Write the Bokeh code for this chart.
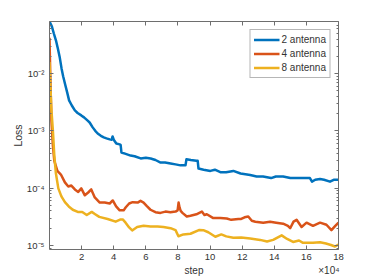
from bokeh.plotting import figure
from bokeh.models import (Range1d, LogAxis, LinearAxis, FixedTicker,
                          CustomJSTickFormatter, Legend, LegendItem)
from bokeh.embed import file_html
from bokeh.resources import INLINE

# ---- data ----
steps_2 = [0, 1500, 2700, 4000, 5200, 6400, 7500, 8500, 9600, 11000,
           12200, 13900, 15800, 17500, 19800, 21500, 23600, 25000, 26900, 28500,
           30000, 32000, 33800, 35500, 37500, 38700, 39300, 40000, 41600, 43700,
           44300, 44800, 47000, 50500, 53000, 56800, 60000, 63000, 66000, 69200,
           72000, 75400, 78500, 81600, 84700, 85300, 88000, 91500, 92300, 92800,
           96000, 100200, 103000, 106400, 110000, 114500, 119000, 125000, 129000, 133000,
           138000, 141000, 145500, 150000, 154200, 158000, 162200, 163500, 165500, 168500,
           171000, 174700, 177000, 180000]
loss_2 = [0.081, 0.066, 0.050, 0.038, 0.0274, 0.019, 0.0123, 0.0090, 0.0067, 0.0047,
          0.0034, 0.00277, 0.00227, 0.00205, 0.00186, 0.00172, 0.00152, 0.00140, 0.00115, 0.00100,
          0.00090, 0.00082, 0.00077, 0.00074, 0.00071, 0.00070, 0.00080, 0.00070, 0.00060, 0.00058,
          0.00057, 0.00042, 0.00040, 0.00037, 0.00036, 0.00033, 0.00034, 0.00033, 0.00031, 0.00028,
          0.00028, 0.00027, 0.00026, 0.00025, 0.00025, 0.00032, 0.00031, 0.00030, 0.00030, 0.00022,
          0.00021, 0.00020, 0.00021, 0.00019, 0.00019, 0.00020, 0.00018, 0.00017, 0.00016, 0.00016,
          0.00015, 0.00016, 0.00016, 0.00015, 0.00015, 0.00015, 0.00015, 0.00013, 0.00014, 0.000145,
          0.00014, 0.00013, 0.00014, 0.00014]

steps_4 = [0, 560, 1200, 2100, 3000, 4900, 7100, 9600, 11700, 13600,
           15800, 17900, 19800, 22000, 24100, 26000, 28200, 31300, 34400, 37500,
           39400, 41500, 43700, 46200, 47400, 49600, 51800, 54900, 56700, 58600,
           60500, 62900, 66000, 69100, 72200, 75300, 78500, 79800, 80400, 81000,
           81700, 82800, 85500, 87800, 91500, 94900, 96500, 98000, 102000, 106400,
           110400, 113200, 117600, 119400, 121500, 123800, 126000, 128200, 133100, 137400,
           141200, 145500, 148500, 149900, 152000, 153900, 157000, 160100, 164100, 168500,
           172500, 175600, 178000, 180000]
loss_4 = [0.042, 0.0076, 0.0015, 0.00056, 0.00030, 0.00020, 0.000173, 0.000126, 0.000107, 0.000111,
          9.5e-5, 8.6e-5, 9.9e-5, 7.5e-5, 8.4e-5, 9.5e-5, 6.9e-5, 5.6e-5, 5.6e-5, 5.4e-5,
          6.1e-5, 4.8e-5, 4.1e-5, 4.1e-5, 4.6e-5, 5.4e-5, 5.7e-5, 5.6e-5, 6.0e-5, 5.6e-5,
          4.9e-5, 4.2e-5, 3.8e-5, 3.7e-5, 3.9e-5, 3.8e-5, 3.9e-5, 4.1e-5, 5.6e-5, 4.6e-5,
          4.0e-5, 3.7e-5, 3.2e-5, 3.3e-5, 3.5e-5, 3.9e-5, 3.4e-5, 3.5e-5, 3.0e-5, 3.0e-5,
          2.95e-5, 2.8e-5, 2.9e-5, 2.9e-5, 3.1e-5, 3.2e-5, 2.7e-5, 2.6e-5, 2.5e-5, 2.6e-5,
          2.5e-5, 2.4e-5, 2.2e-5, 2.0e-5, 2.6e-5, 2.8e-5, 2.1e-5, 2.5e-5, 2.2e-5, 2.5e-5,
          2.3e-5, 1.85e-5, 2.2e-5, 2.5e-5]

steps_8 = [0, 560, 1200, 2100, 3000, 4000, 5500, 7400, 9600, 12000,
           14500, 17600, 20400, 23200, 26300, 28200, 31000, 36200, 41200, 44300,
           45600, 47400, 49600, 51500, 54600, 58600, 62900, 67300, 71000, 75400,
           78500, 80300, 83400, 87800, 93400, 95800, 98900, 103300, 107000, 110100,
           114500, 119400, 125000, 131200, 135500, 139300, 144600, 148000, 151700, 155400,
           157900, 164100, 168500, 172200, 175300, 177800, 180000]
loss_8 = [0.0158, 0.0062, 0.0023, 0.00102, 0.00037, 0.00018, 9.9e-5, 7.2e-5, 5.7e-5, 4.8e-5,
          4.2e-5, 3.85e-5, 3.85e-5, 3.4e-5, 3.85e-5, 3.55e-5, 3.15e-5, 2.9e-5, 2.6e-5, 2.85e-5,
          2.85e-5, 2.5e-5, 2.06e-5, 1.83e-5, 2.1e-5, 2.2e-5, 2.15e-5, 2.15e-5, 2.1e-5, 2.0e-5,
          1.85e-5, 1.45e-5, 1.56e-5, 1.6e-5, 1.87e-5, 1.85e-5, 1.7e-5, 1.42e-5, 1.56e-5, 1.44e-5,
          1.36e-5, 1.38e-5, 1.32e-5, 1.25e-5, 1.17e-5, 1.25e-5, 1.5e-5, 1.3e-5, 1.15e-5, 1.22e-5,
          1.11e-5, 1.11e-5, 1.14e-5, 1.08e-5, 1.02e-5, 9.6e-6, 1.04e-5]

series_labels = ["2 antenna", "4 antenna", "8 antenna"]
series_colors = ["#0072BD", "#D95319", "#EDB120"]
x_ticks = [20000, 40000, 60000, 80000, 100000, 120000, 140000, 160000, 180000]
y_ticks = [1e-5, 1e-4, 1e-3, 1e-2]
x_title = "step"
x_multiplier = "\u00d710\u2074"
y_title = "Loss"

FONT = "Liberation Sans"
TXT = "#333333"
LINE = "#6e6e6e"

p = figure(width=374, height=280, y_axis_type="log",
           x_range=Range1d(0, 180000), y_range=Range1d(8.5e-6, 0.081),
           output_backend="svg", toolbar_location=None,
           min_border_left=49, min_border_right=36, min_border_top=21, min_border_bottom=31)
p.outline_line_color = None
p.grid.visible = False
p.background_fill_color = "white"
p.border_fill_color = "white"

renderers = []
for xs, ys, c in [(steps_2, loss_2, series_colors[0]),
                  (steps_4, loss_4, series_colors[1]),
                  (steps_8, loss_8, series_colors[2])]:
    r = p.line(xs, ys, line_color=c, line_width=2.5, line_join="round")
    renderers.append(r)

minor = [m * t for t in [1e-6, 1e-5, 1e-4, 1e-3, 1e-2] for m in range(2, 10)]
sup_js = """
const sup = {'-':'\u207b','0':'\u2070','1':'\u00b9','2':'\u00b2','3':'\u00b3','4':'\u2074','5':'\u2075','6':'\u2076','7':'\u2077','8':'\u2078','9':'\u2079'};
const e = Math.round(Math.log10(tick));
return '10' + String(e).split('').map(c => sup[c]).join('');
"""

def style(ax):
    ax.axis_line_color = LINE
    ax.axis_line_width = 1
    ax.major_tick_line_color = LINE
    ax.minor_tick_line_color = LINE
    ax.major_tick_in = 4
    ax.major_tick_out = 0
    ax.minor_tick_in = 2
    ax.minor_tick_out = 0
    ax.major_label_text_font = FONT
    ax.major_label_text_font_size = "9.5px"
    ax.major_label_text_color = TXT
    ax.axis_label_text_font = FONT
    ax.axis_label_text_font_size = "10.5px"
    ax.axis_label_text_font_style = "normal"
    ax.axis_label_text_color = TXT

# bottom x axis (ticks + tick labels)
xa = p.xaxis[0]
xa.ticker = FixedTicker(ticks=x_ticks)
xa.formatter = CustomJSTickFormatter(code="return String(Math.round(tick/1e4));")
style(xa)
xa.minor_tick_line_color = None
xa.major_label_standoff = 4

# second row below: axis title centred and the x10^4 multiplier at the right end
xt = LinearAxis(ticker=FixedTicker(ticks=[90000, 174000]),
                formatter=CustomJSTickFormatter(
                    args=dict(t=x_title, m=x_multiplier),
                    code="return tick < 150000 ? t : m;"))
style(xt)
xt.axis_line_color = None
xt.major_tick_line_color = None
xt.minor_tick_line_color = None
xt.major_label_standoff = 2
xt.major_label_text_font_size = "10px"
p.add_layout(xt, "below")

# left y axis
ya = p.yaxis[0]
ya.ticker = FixedTicker(ticks=y_ticks, minor_ticks=minor)
ya.formatter = CustomJSTickFormatter(code=sup_js)
style(ya)
ya.major_label_standoff = 5
ya.axis_label = y_title
ya.axis_label_standoff = 0

# box axes (top / right) with ticks, no labels
top = LinearAxis(ticker=FixedTicker(ticks=x_ticks), formatter=CustomJSTickFormatter(code="return '';"))
style(top)
top.minor_tick_line_color = None
p.add_layout(top, "above")
right = LogAxis(ticker=FixedTicker(ticks=y_ticks, minor_ticks=minor), formatter=CustomJSTickFormatter(code="return '';"))
style(right)
p.add_layout(right, "right")

legend = Legend(items=[LegendItem(label=l, renderers=[r]) for l, r in zip(series_labels, renderers)],
                location="top_right")
legend.margin = 8
legend.padding = 3
legend.spacing = 1
legend.glyph_width = 26
legend.glyph_height = 13
legend.label_height = 13
legend.label_standoff = 2
legend.label_text_font = FONT
legend.label_text_font_size = "10px"
legend.label_text_color = TXT
legend.border_line_color = LINE
legend.border_line_width = 1
legend.background_fill_color = "white"
legend.background_fill_alpha = 1
p.add_layout(legend)

open("out.html", "w").write(file_html(p, INLINE))
